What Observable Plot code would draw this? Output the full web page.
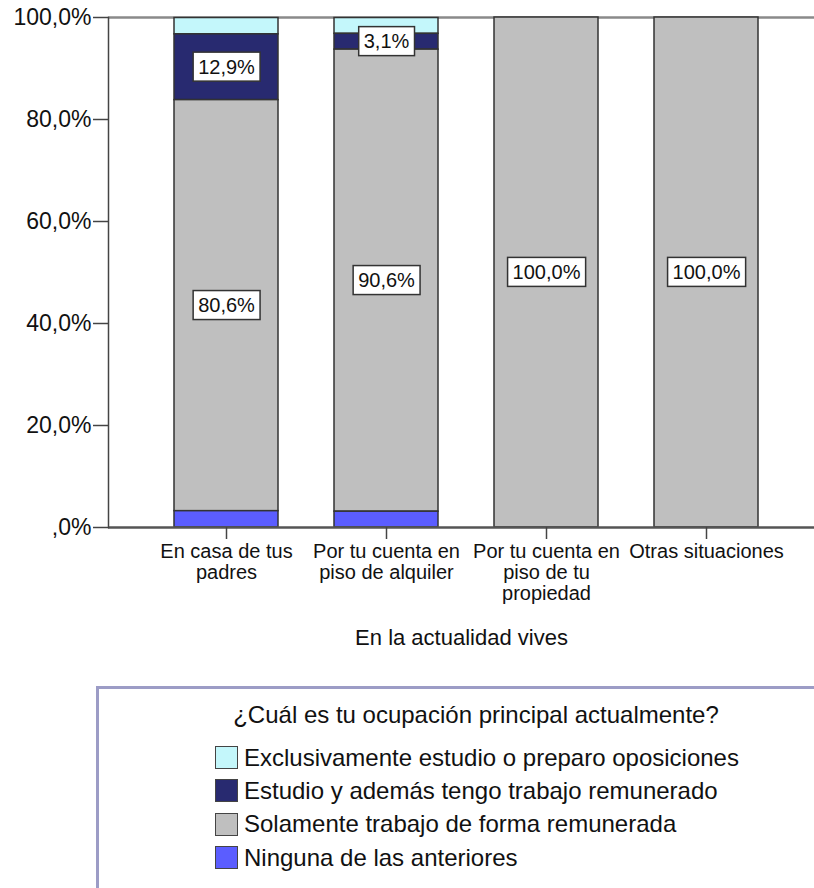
<!DOCTYPE html>
<html>
<head>
<meta charset="utf-8">
<script src="https://cdn.jsdelivr.net/npm/d3@7"></script>
<script src="https://cdn.jsdelivr.net/npm/@observablehq/plot@0.6"></script>
<style>
  html, body { margin: 0; padding: 0; background: #fff; }
  body { width: 814px; height: 888px; overflow: hidden; position: relative; font-family: "Liberation Sans", Arial, sans-serif; }
  #legend { position: absolute; left: 96px; top: 686px; width: 760px; height: 260px; border: 3px solid #9c9cc6; box-sizing: border-box; }
  #legend .title { position: absolute; left: 0; right: 0; top: 12px; text-align: center; font-size: 24px; color: #111; }
  #legend .items { position: absolute; left: 116px; top: 52px; }
  #legend .item { display: flex; align-items: center; height: 33.3px; font-size: 24px; color: #111; }
  #legend .sw { width: 21px; height: 21px; border: 1.5px solid #444; margin-right: 6px; box-sizing: content-box; }
  #chart g[aria-label="x-axis label"] text { font-size: 22px; }
</style>
</head>
<body>
<div id="chart"></div>
<div id="legend"><div class="title"></div><div class="items"></div></div>
<script>
const categories = ["En casa de tus padres", "Por tu cuenta en piso de alquiler", "Por tu cuenta en piso de tu propiedad", "Otras situaciones"];
const tickLabels = ["En casa de tus\npadres", "Por tu cuenta en\npiso de alquiler", "Por tu cuenta en\npiso de tu\npropiedad", "Otras situaciones"];
const occupations = ["Exclusivamente estudio o preparo oposiciones", "Estudio y además tengo trabajo remunerado", "Solamente trabajo de forma remunerada", "Ninguna de las anteriores"];
const occupationColors = ["#c4f7fb", "#282a70", "#bfbfbf", "#5b5dff"];
const exclusivamenteEstudio = [3.2, 3.1, 0, 0];
const estudioYTrabajo = [12.9, 3.1, 0, 0];
const soloTrabajo = [80.6, 90.6, 100, 100];
const ninguna = [3.2, 3.1, 0, 0];
const labeledOccupations = ["Estudio y además tengo trabajo remunerado", "Solamente trabajo de forma remunerada"];
const yTicks = [0, 20, 40, 60, 80, 100];
const legendTitle = "¿Cuál es tu ocupación principal actualmente?";
const xTitle = "En la actualidad vives";

const series = [exclusivamenteEstudio, estudioYTrabajo, soloTrabajo, ninguna];
const data = [];
categories.forEach((c, i) => {
  occupations.forEach((o, j) => {
    data.push({cat: c, occ: o, value: series[j][i]});
  });
});
const stackOrder = occupations.slice().reverse();
const pct = v => v === 0 ? ",0%" : v.toFixed(1).replace(".", ",") + "%";

const chart = Plot.plot({
  width: 814,
  height: 664,
  marginLeft: 108,
  marginRight: 0,
  marginTop: 17,
  marginBottom: 137,
  style: {fontFamily: "Liberation Sans, Arial, sans-serif", fontSize: "20px", color: "#111", background: "#fff"},
  x: {domain: categories, paddingInner: 0.348, paddingOuter: 0.367, align: 0.54},
  y: {domain: [0, 100]},
  color: {domain: occupations, range: occupationColors},
  marks: [
    Plot.ruleY([100], {stroke: "#8a8a8a", strokeWidth: 2.5}),
    Plot.barY(data, Plot.stackY({order: stackOrder}, {x: "cat", y: "value", fill: "occ", stroke: "#333", strokeWidth: 1.5})),
    Plot.text(data, Plot.stackY({order: stackOrder}, {
      x: "cat", y: "value", z: "occ",
      text: d => (d.value > 0 && labeledOccupations.includes(d.occ)) ? pct(d.value) : null,
      fill: "#111", fontSize: 20
    })),
    Plot.ruleY([0], {stroke: "#555", strokeWidth: 2.5}),
    Plot.frame({anchor: "left", stroke: "#444", strokeWidth: 1.5}),
    Plot.axisY({ticks: yTicks, tickFormat: pct, tickSize: 15, tickPadding: 2, fontSize: 23, label: null, stroke: "#444", strokeWidth: 1.5}),
    Plot.axisX({tickSize: 12, tickPadding: 4, tickFormat: d => tickLabels[categories.indexOf(d)], fontSize: 20, lineHeight: 1.05,
      label: xTitle, labelAnchor: "center", labelOffset: 117, stroke: "#444", strokeWidth: 1.5})
  ]
});
document.getElementById("chart").append(chart);

// white boxes behind the segment value labels
chart.querySelectorAll('g[aria-label="text"] text').forEach(t => {
  const b = t.getBBox();
  const r = document.createElementNS("http://www.w3.org/2000/svg", "rect");
  r.setAttribute("x", b.x - 5);
  r.setAttribute("y", b.y - 3.5);
  r.setAttribute("width", b.width + 10);
  r.setAttribute("height", b.height + 7);
  r.setAttribute("fill", "#fff");
  r.setAttribute("stroke", "#333");
  r.setAttribute("stroke-width", 1.5);
  const tr = t.getAttribute("transform");
  if (tr) r.setAttribute("transform", tr);
  t.parentNode.insertBefore(r, t);
});

// legend built from the plot's color scale
const colorScale = chart.scale("color");
document.querySelector("#legend .title").textContent = legendTitle;
const items = d3.select("#legend .items");
occupations.forEach(o => {
  const row = items.append("div").attr("class", "item");
  row.append("div").attr("class", "sw").style("background", colorScale.apply(o));
  row.append("span").text(o);
});
</script>
</body>
</html>
